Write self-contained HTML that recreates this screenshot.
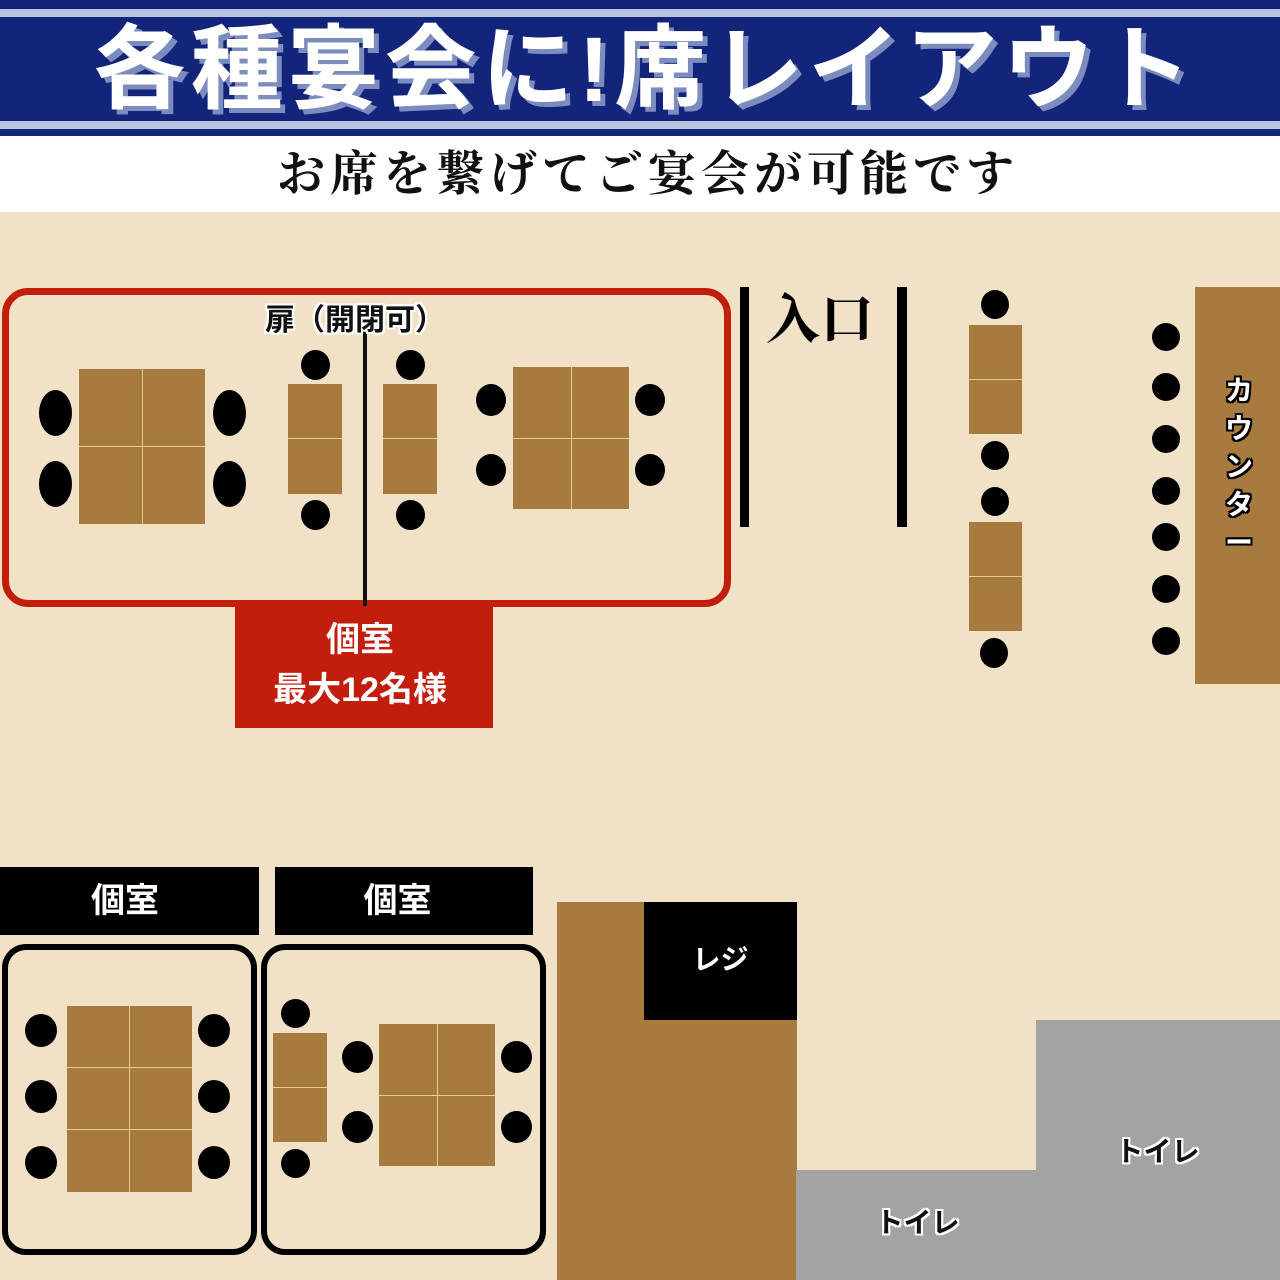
<!DOCTYPE html>
<html><head><meta charset="utf-8"><style>
*{margin:0;padding:0;box-sizing:border-box}
body{width:1280px;height:1280px;position:relative;overflow:hidden;background:#f1e1c6;font-family:"Liberation Sans","Noto Sans CJK JP",sans-serif}
div{position:absolute}
.c{background:#000;border-radius:50%}
.t{background:#a67b3d}
.lh{background:#e8c99a;height:1px}
.lv{background:#e8c99a;width:1px}
.lab{color:#fff;font-weight:bold;text-align:center}
.out{color:#111;font-weight:bold;text-shadow:-2px 0 #fff,2px 0 #fff,0 -2px #fff,0 2px #fff,-2px -2px #fff,2px 2px #fff,-2px 2px #fff,2px -2px #fff}
.wout{color:#fff;font-weight:bold;text-shadow:-2px 0 #000,2px 0 #000,0 -2px #000,0 2px #000,-2px -2px #000,2px 2px #000,-2px 2px #000,2px -2px #000}
</style></head><body>
<!-- header -->
<div style="left:0;top:0;width:1280px;height:136px;background:#13257a"></div>
<div style="left:0;top:9px;width:1280px;height:8px;background:#b9c2de"></div>
<div style="left:0;top:121px;width:1280px;height:8px;background:#b9c2de"></div>
<div style="left:0;top:18px;width:1290px;height:104px;line-height:104px;text-align:center;color:#fff;font-size:92px;font-weight:bold;letter-spacing:5px;text-shadow:5px 5px 0 #7d8cbf">各種宴会に!席レイアウト</div>
<div style="left:0;top:136px;width:1280px;height:76px;background:#fff"></div>
<div style="left:0;top:140px;width:1296px;height:70px;line-height:70px;text-align:center;font-family:'Liberation Serif','Noto Serif CJK SC',serif;font-weight:bold;font-size:48px;letter-spacing:5px;color:#111">お席を繋げてご宴会が可能です</div>

<!-- red room -->
<div style="left:2px;top:288px;width:729px;height:319px;border:7px solid #c21e0e;border-radius:26px"></div>
<div style="left:235px;top:604px;width:258px;height:124px;background:#c21e0e"></div>
<div class="lab" style="left:235px;top:615px;width:250px;font-size:34px;line-height:50px">個室<br>最大12名様</div>
<div style="left:363px;top:318px;width:4px;height:288px;background:#111"></div>
<div class="out" style="left:250px;top:301px;width:210px;font-size:30px;line-height:40px;text-align:center">扉（開閉可）</div>

<div class="t" style="left:79px;top:369px;width:126px;height:155px"></div>
<div class="lv" style="left:142px;top:369px;height:155px"></div>
<div class="lh" style="left:79px;top:446px;width:126px"></div>
<div class="c" style="left:39px;top:390px;width:33px;height:46px"></div>
<div class="c" style="left:39px;top:461px;width:33px;height:46px"></div>
<div class="c" style="left:213px;top:390px;width:33px;height:46px"></div>
<div class="c" style="left:213px;top:461px;width:33px;height:46px"></div>

<div class="t" style="left:288px;top:384px;width:54px;height:110px"></div>
<div class="lh" style="left:288px;top:438px;width:54px"></div>
<div class="c" style="left:301px;top:350px;width:29px;height:30px"></div>
<div class="c" style="left:301px;top:500px;width:29px;height:30px"></div>
<div class="t" style="left:383px;top:384px;width:54px;height:110px"></div>
<div class="lh" style="left:383px;top:438px;width:54px"></div>
<div class="c" style="left:396px;top:350px;width:29px;height:30px"></div>
<div class="c" style="left:396px;top:500px;width:29px;height:30px"></div>

<div class="t" style="left:513px;top:367px;width:116px;height:142px"></div>
<div class="lv" style="left:571px;top:367px;height:142px"></div>
<div class="lh" style="left:513px;top:438px;width:116px"></div>
<div class="c" style="left:476px;top:384px;width:30px;height:32px"></div>
<div class="c" style="left:476px;top:454px;width:30px;height:32px"></div>
<div class="c" style="left:635px;top:384px;width:30px;height:32px"></div>
<div class="c" style="left:635px;top:454px;width:30px;height:32px"></div>

<!-- entrance -->
<div style="left:740px;top:287px;width:9px;height:240px;background:#000"></div>
<div style="left:897px;top:287px;width:10px;height:240px;background:#000"></div>
<div style="left:766px;top:290px;font-family:'Liberation Serif','Noto Serif CJK SC',serif;font-weight:bold;font-size:54px;line-height:60px;color:#000">入口</div>

<!-- middle column -->
<div class="c" style="left:981px;top:290px;width:28px;height:29px"></div>
<div class="t" style="left:969px;top:325px;width:53px;height:109px"></div>
<div class="lh" style="left:969px;top:379px;width:53px"></div>
<div class="c" style="left:981px;top:441px;width:28px;height:29px"></div>
<div class="c" style="left:981px;top:487px;width:28px;height:29px"></div>
<div class="t" style="left:969px;top:522px;width:53px;height:109px"></div>
<div class="lh" style="left:969px;top:576px;width:53px"></div>
<div class="c" style="left:980px;top:638px;width:28px;height:30px"></div>

<!-- counter -->
<div class="t" style="left:1195px;top:287px;width:85px;height:397px"></div>
<div class="wout" style="left:1222px;top:372px;width:34px;font-size:28px;line-height:38px;text-align:center">カ<br>ウ<br>ン<br>タ<br>ー</div>
<div class="c" style="left:1152px;top:323px;width:28px;height:28px"></div>
<div class="c" style="left:1152px;top:373px;width:28px;height:28px"></div>
<div class="c" style="left:1152px;top:425px;width:28px;height:28px"></div>
<div class="c" style="left:1152px;top:477px;width:28px;height:28px"></div>
<div class="c" style="left:1152px;top:523px;width:28px;height:28px"></div>
<div class="c" style="left:1152px;top:575px;width:28px;height:28px"></div>
<div class="c" style="left:1152px;top:627px;width:28px;height:28px"></div>

<!-- bottom rooms -->
<div style="left:0;top:867px;width:259px;height:68px;background:#000"></div>
<div class="lab" style="left:0;top:867px;width:250px;line-height:68px;font-size:34px">個室</div>
<div style="left:275px;top:867px;width:258px;height:68px;background:#000"></div>
<div class="lab" style="left:275px;top:867px;width:245px;line-height:68px;font-size:34px">個室</div>

<div style="left:2px;top:944px;width:255px;height:311px;border:6px solid #000;border-radius:24px"></div>
<div class="t" style="left:67px;top:1006px;width:125px;height:186px"></div>
<div class="lv" style="left:129px;top:1006px;height:186px"></div>
<div class="lh" style="left:67px;top:1067px;width:125px"></div>
<div class="lh" style="left:67px;top:1129px;width:125px"></div>
<div class="c" style="left:25px;top:1014px;width:32px;height:33px"></div>
<div class="c" style="left:25px;top:1080px;width:32px;height:33px"></div>
<div class="c" style="left:25px;top:1146px;width:32px;height:33px"></div>
<div class="c" style="left:198px;top:1014px;width:32px;height:33px"></div>
<div class="c" style="left:198px;top:1080px;width:32px;height:33px"></div>
<div class="c" style="left:198px;top:1146px;width:32px;height:33px"></div>

<div style="left:261px;top:944px;width:285px;height:311px;border:6px solid #000;border-radius:24px"></div>
<div class="t" style="left:273px;top:1033px;width:54px;height:109px"></div>
<div class="lh" style="left:273px;top:1087px;width:54px"></div>
<div class="c" style="left:281px;top:999px;width:29px;height:29px"></div>
<div class="c" style="left:281px;top:1149px;width:29px;height:29px"></div>
<div class="t" style="left:379px;top:1024px;width:116px;height:142px"></div>
<div class="lv" style="left:437px;top:1024px;height:142px"></div>
<div class="lh" style="left:379px;top:1095px;width:116px"></div>
<div class="c" style="left:342px;top:1041px;width:31px;height:32px"></div>
<div class="c" style="left:342px;top:1111px;width:31px;height:32px"></div>
<div class="c" style="left:501px;top:1041px;width:31px;height:32px"></div>
<div class="c" style="left:501px;top:1111px;width:31px;height:32px"></div>

<!-- kitchen / register / toilets -->
<div class="t" style="left:557px;top:902px;width:240px;height:378px"></div>
<div style="left:644px;top:902px;width:153px;height:118px;background:#000"></div>
<div class="wout" style="left:644px;top:940px;width:153px;text-align:center;font-size:28px;line-height:40px">レジ</div>
<div style="left:796px;top:1170px;width:484px;height:110px;background:#a3a3a3"></div>
<div style="left:1036px;top:1020px;width:244px;height:152px;background:#a3a3a3"></div>
<div class="out" style="left:1100px;top:1132px;width:115px;text-align:center;font-size:28px;line-height:40px">トイレ</div>
<div class="out" style="left:860px;top:1203px;width:115px;text-align:center;font-size:28px;line-height:40px">トイレ</div>
</body></html>
